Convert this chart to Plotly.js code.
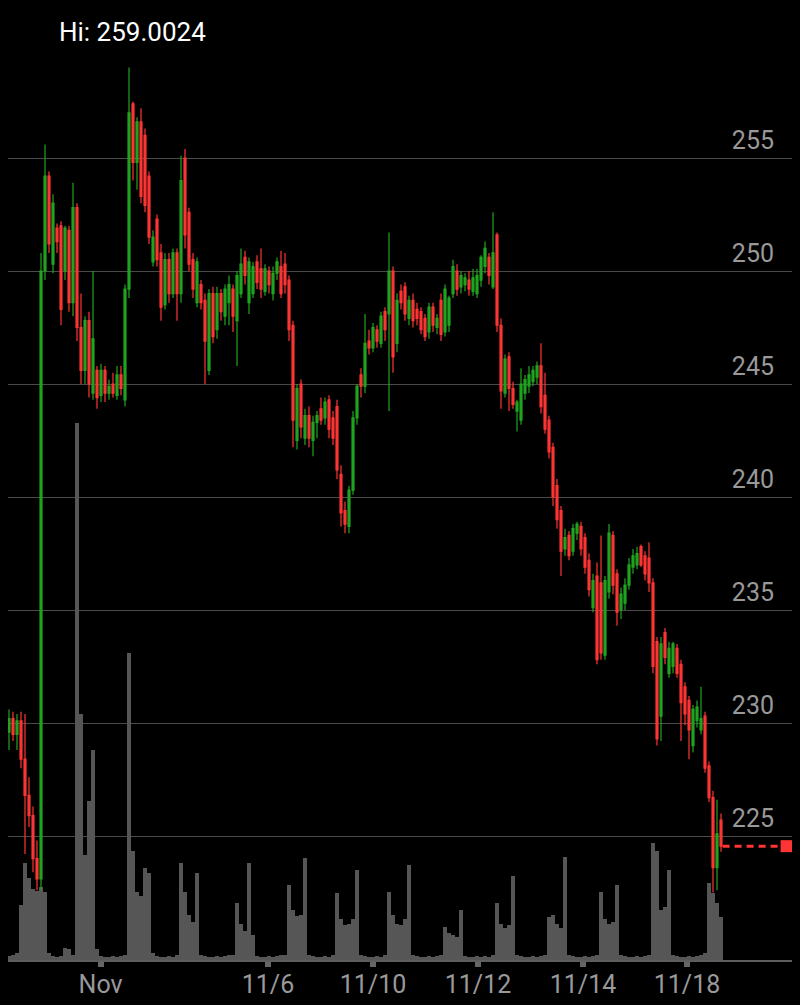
<!DOCTYPE html>
<html>
<head>
<meta charset="utf-8">
<script src="https://cdn.plot.ly/plotly-3.0.1.min.js"></script>
<style>
  html, body { margin: 0; padding: 0; background: #000; }
  #graph { width: 800px; height: 1005px; }
</style>
</head>
<body>
<div id="graph"></div>
<script>
// one candle per bar, bars are evenly spaced (gaps between sessions removed)
var open = [229.6,230.2,229.5,230.1,228.4,226.8,225.9,224.0,223.1,250.0,254.2,250.3,251.9,252.0,250.0,251.8,248.6,252.8,247.5,245.6,
  247.8,244.6,245.6,244.5,245.6,244.6,245.0,244.5,245.4,244.3,249.2,257.4,254.8,256.6,256.0,254.2,250.4,252.3,250.8,248.5,
  250.5,249.0,250.8,249.0,255.0,252.6,250.5,248.6,249.4,248.7,245.6,249.0,247.4,249.0,248.0,248.6,249.2,247.8,249.0,250.6,
  248.6,249.0,250.4,250.1,249.1,250.0,249.0,249.9,250.2,250.3,249.6,247.6,242.5,245.0,242.6,243.6,242.5,243.3,243.9,243.5,
  244.3,243.5,244.0,241.0,239.4,238.7,240.3,243.5,245.4,244.9,246.9,246.6,247.4,246.8,248.2,248.1,250.0,246.8,249.1,249.3,
  247.9,248.7,248.3,248.2,247.9,247.3,248.4,247.5,248.7,247.3,247.6,249.0,250.0,249.3,249.4,249.6,249.1,249.0,249.6,250.2,
  250.6,249.3,251.6,247.6,244.6,246.2,244.8,243.8,243.4,244.6,244.9,245.1,245.3,245.8,244.5,243.4,242.2,240.5,239.4,237.7,
  238.3,237.6,238.4,238.7,238.2,237.2,235.1,236.5,236.2,233.0,235.8,238.3,236.6,235.0,235.3,236.1,236.9,237.0,237.8,237.4,
  237.3,236.2,233.6,230.3,234.0,232.2,232.5,233.3,232.6,231.6,231.0,229.0,230.1,229.7,230.3,228.1,226.7,223.6,225.7];
var high = [230.6,230.5,230.4,230.5,230.4,227.6,226.3,224.8,250.8,255.6,254.4,253.4,252.1,252.2,252.0,252.0,253.9,253.0,249.0,248.0,
  248.2,250.0,245.8,245.9,245.8,245.2,245.5,245.8,245.8,249.4,259.0024,257.5,256.8,257.2,256.3,254.4,251.8,252.5,251.2,250.8,
  250.8,251.0,251.0,255.1,255.4,252.8,250.8,250.6,249.6,249.0,249.2,249.3,249.3,249.2,249.4,249.8,249.4,250.0,251.0,250.9,
  250.6,250.4,250.7,251.0,250.3,250.2,250.2,250.6,250.9,250.8,249.8,247.8,245.0,245.2,243.9,244.0,243.6,243.8,244.4,244.4,
  244.5,243.8,244.3,241.4,239.8,240.5,243.8,245.0,245.7,248.1,247.4,247.7,247.6,248.2,248.4,251.7,250.2,249.0,249.4,249.5,
  248.9,249.0,248.6,248.4,248.1,248.6,248.6,248.1,249.0,249.4,248.9,250.5,250.3,250.0,249.9,250.0,250.1,250.1,250.7,251.3,
  250.8,252.6,251.7,247.9,246.3,246.4,245.1,244.3,245.7,245.4,245.8,245.8,246.0,246.8,245.5,243.6,242.4,240.8,239.6,238.6,
  238.5,238.8,238.9,238.9,238.4,237.5,236.6,237.1,238.3,236.5,238.8,238.5,236.8,236.0,236.4,237.3,237.7,237.8,237.9,237.6,
  238.0,236.4,233.8,233.8,234.2,233.6,233.6,233.5,232.8,231.8,231.2,230.8,231.0,231.6,230.5,228.3,227.0,226.6,226.0];
var low = [228.8,229.2,228.8,228.0,224.2,225.4,223.4,222.6,222.6,249.6,250.8,249.9,250.8,247.6,249.6,248.2,248.0,246.9,245.0,245.0,
  244.4,244.3,243.9,244.2,244.2,244.3,244.4,244.3,244.5,244.0,248.8,254.0,253.6,253.0,252.6,251.2,250.2,250.2,247.8,248.3,
  248.6,248.8,247.8,248.6,251.0,250.0,248.8,248.4,248.3,245.0,245.4,246.8,247.0,247.8,247.6,247.6,247.3,245.8,248.8,249.4,
  248.1,248.8,249.2,248.8,248.9,249.0,248.7,249.6,248.8,249.0,246.9,242.2,242.1,242.6,242.3,242.2,241.8,242.6,243.2,243.2,
  242.6,242.3,240.8,238.7,238.4,238.4,240.1,243.2,244.4,244.6,246.3,246.4,246.6,246.6,246.9,243.8,245.5,246.4,248.3,247.8,
  247.6,247.5,247.6,247.2,246.9,247.0,247.3,247.2,246.9,247.1,247.3,248.8,248.9,249.0,249.1,248.9,248.9,248.8,249.3,249.9,
  249.4,249.2,247.3,243.9,244.4,243.8,243.9,242.9,243.2,244.3,244.6,244.9,245.0,243.7,242.8,241.7,239.6,238.6,236.5,237.4,
  237.2,237.4,238.1,237.4,236.6,235.6,234.9,232.6,232.8,232.8,235.5,235.7,234.3,234.6,235.0,235.9,236.6,236.8,236.9,236.3,
  235.8,232.2,229.0,229.2,232.6,232.0,232.2,232.0,229.2,229.9,228.4,228.7,229.8,229.5,227.8,226.5,222.5,222.6,224.3];
var close = [230.2,229.5,230.1,228.4,226.8,225.9,224.0,223.1,250.0,254.2,251.2,253.0,251.3,248.3,251.9,248.6,252.8,247.5,245.6,247.8,
  245.0,247.0,244.4,245.6,244.6,244.9,244.6,245.4,244.8,249.2,257.0,254.8,256.6,253.3,252.9,251.5,251.5,250.5,248.4,250.5,
  249.0,250.8,249.0,254.0,251.6,250.3,249.2,250.4,248.6,246.9,249.0,247.1,249.0,248.2,249.2,249.4,248.0,249.8,250.3,249.8,
  250.4,250.2,249.5,249.2,250.1,249.4,249.9,250.4,249.0,249.4,247.4,243.4,244.8,243.1,243.6,242.6,243.3,243.6,243.4,244.2,
  243.0,242.6,241.2,239.3,238.8,240.3,243.5,244.9,244.9,246.8,246.6,247.5,246.9,248.0,247.4,250.0,246.2,248.7,248.6,248.1,
  248.7,247.8,247.9,247.4,247.1,248.4,247.6,247.9,247.2,249.2,248.8,250.2,249.2,249.8,249.7,249.2,249.7,249.8,250.6,251.0,
  249.8,250.8,247.6,244.7,246.1,244.8,244.1,244.2,245.0,245.2,245.4,245.6,245.8,244.0,243.0,242.0,240.0,239.0,237.6,238.2,
  237.4,238.6,238.8,237.7,236.9,235.9,236.3,232.8,233.1,236.3,238.4,236.1,234.9,235.7,236.1,237.0,237.4,237.5,237.0,236.6,
  236.2,232.5,229.3,233.5,232.9,233.3,233.5,232.2,230.9,230.4,229.7,230.6,230.7,230.2,228.0,226.7,223.6,225.1,224.55];
var volume = [4,5,8,60,107,90,78,76,80,75,8,4,3,4,13,12,5,590,270,115,
  175,231,12,4,3,3,4,3,4,6,337,120,75,70,101,96,8,4,3,3,
  4,3,5,107,75,50,42,96,6,4,3,3,4,3,4,5,6,63,40,32,
  107,28,4,3,3,4,3,4,5,6,82,55,48,50,112,5,4,3,3,4,
  3,5,74,45,38,40,45,99,5,4,3,3,4,3,5,75,50,40,38,45,
  104,5,4,3,3,4,3,4,5,36,30,28,25,55,4,3,3,4,3,4,
  3,5,63,40,35,38,92,5,4,3,3,4,3,4,5,47,50,40,35,113,
  5,4,3,3,4,3,4,5,75,45,40,42,82,5,4,3,3,4,3,4,
  5,129,120,55,58,99,5,4,3,3,4,3,4,5,8,85,74,63,47];

var dateLabels = ['Nov', '11/6', '11/10', '11/12', '11/14', '11/18'];
var datePos = [22.9, 64.75, 91, 117.25, 143.5, 169.5];
var priceTicks = [225, 230, 235, 240, 245, 250, 255];

var upColor = '#1fa51f';
var downColor = '#ff3535';
var volColor = '#565656';
var labelColor = '#999999';

var idx = close.map(function (_, i) { return i; });
var last = close.length - 1;
var xEnd = last + 17.75;

var volTrace = {
  x: idx,
  y: volume,
  type: 'bar',
  marker: { color: volColor, line: { width: 0 } },
  xaxis: 'x',
  yaxis: 'y',
  hoverinfo: 'skip'
};

var candles = {
  x: idx,
  open: open,
  high: high,
  low: low,
  close: close,
  type: 'candlestick',
  xaxis: 'x',
  yaxis: 'y2',
  whiskerwidth: 0,
  increasing: { line: { color: upColor, width: 1.2 }, fillcolor: upColor },
  decreasing: { line: { color: downColor, width: 1.2 }, fillcolor: downColor },
  hoverinfo: 'skip'
};

var lastLine = {
  x: [last + 0.4, last + 16.4],
  y: [close[last], close[last]],
  type: 'scatter',
  mode: 'lines+markers',
  xaxis: 'x',
  yaxis: 'y2',
  line: { color: downColor, width: 3, dash: '7px,5px' },
  marker: { symbol: 'square', size: [0, 12], color: downColor, opacity: 1, line: { width: 0 } },
  hoverinfo: 'skip'
};

var hi = Math.max.apply(null, high);

var layout = {
  width: 800,
  height: 1005,
  margin: { l: 8, r: 8, t: 50, b: 45 },
  paper_bgcolor: '#000',
  plot_bgcolor: '#000',
  showlegend: false,
  bargap: 0,
  font: { family: 'Roboto, sans-serif', color: labelColor },
  xaxis: {
    range: [-0.25, xEnd],
    rangeslider: { visible: false },
    showgrid: false,
    zeroline: false,
    showline: true,
    linecolor: '#5e5e5e',
    linewidth: 1.5,
    ticks: 'outside',
    ticklen: 5,
    tickwidth: 6,
    tickcolor: '#666',
    ticklabelstandoff: -4,
    tickvals: datePos,
    ticktext: dateLabels,
    tickfont: { size: 25, color: labelColor, family: 'Roboto, sans-serif' },
    fixedrange: true
  },
  yaxis: {
    range: [0, 1000],
    showgrid: false,
    zeroline: false,
    showticklabels: false,
    fixedrange: true
  },
  yaxis2: {
    overlaying: 'y',
    side: 'right',
    range: [219.513, 259.779],
    tickvals: priceTicks,
    ticklabelposition: 'inside top',
    ticklabelstandoff: 15,
    showgrid: true,
    gridcolor: '#4a4a4a',
    gridwidth: 1,
    zeroline: false,
    ticks: '',
    tickfont: { size: 25, color: labelColor, family: 'Roboto, sans-serif' },
    fixedrange: true
  },
  annotations: [{
    xref: 'paper', yref: 'paper',
    x: 0.0625, y: 1.0198,
    xanchor: 'left', yanchor: 'middle',
    text: 'Hi: ' + hi.toFixed(4),
    showarrow: false,
    font: { size: 26, color: '#ffffff', family: 'Roboto, sans-serif' }
  }]
};

Plotly.newPlot('graph', [volTrace, candles, lastLine], layout, { displayModeBar: false, staticPlot: true });
</script>
</body>
</html>
